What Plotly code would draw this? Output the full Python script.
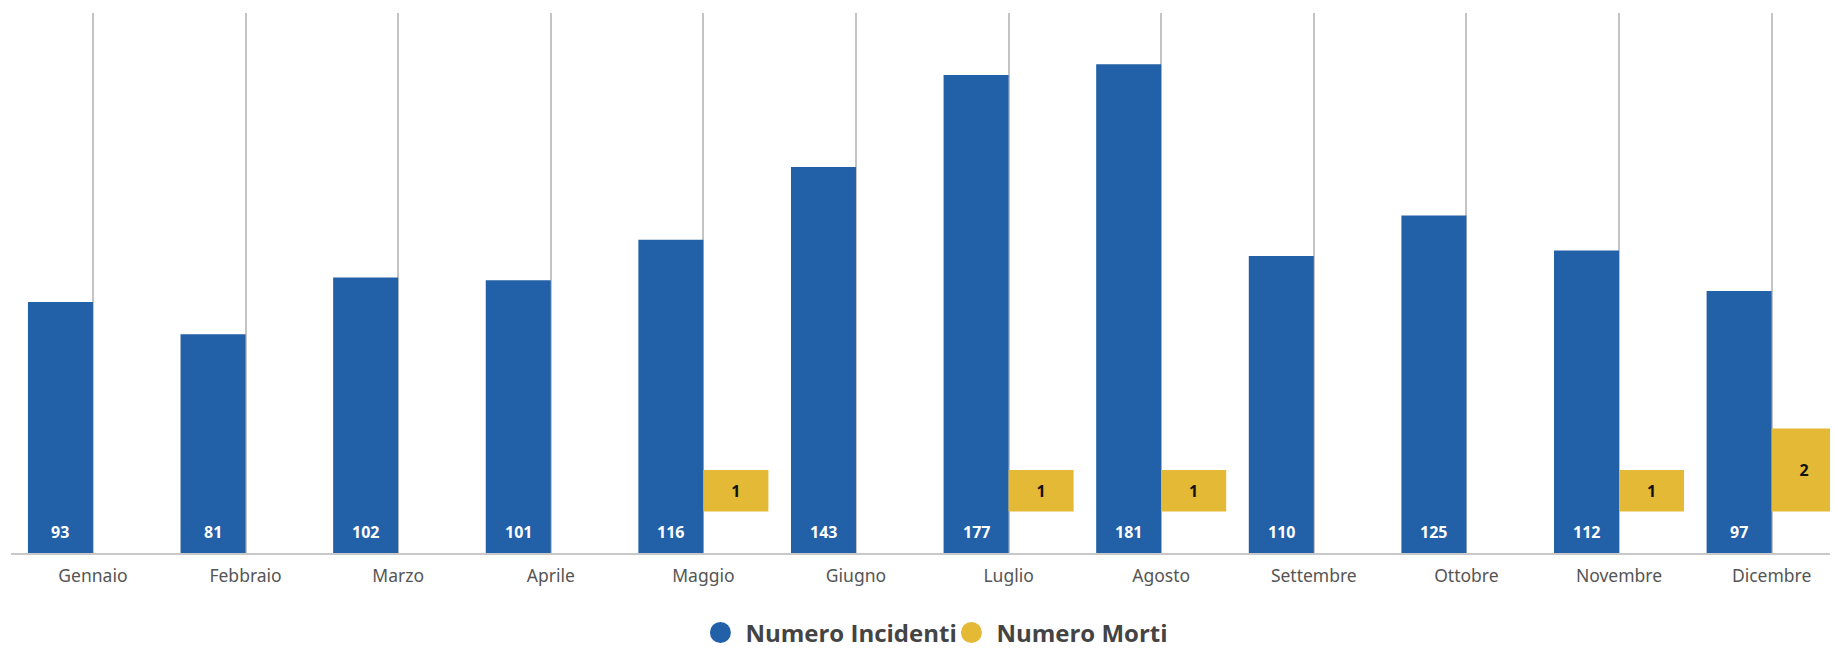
import plotly.graph_objects as go

months = ["Gennaio", "Febbraio", "Marzo", "Aprile", "Maggio", "Giugno",
          "Luglio", "Agosto", "Settembre", "Ottobre", "Novembre", "Dicembre"]
incidenti = [93, 81, 102, 101, 116, 143, 177, 181, 110, 125, 112, 97]
morti = [0, 0, 0, 0, 1, 0, 1, 1, 0, 0, 1, 2]

BLUE = "#2260A8"
YELLOW = "#E3B935"
FONT = "Noto Sans"

xs = list(range(len(months)))
BW = 0.426

fig = go.Figure()
fig.add_trace(go.Bar(
    x=xs, y=incidenti, width=BW, offset=-BW,
    marker=dict(color=BLUE, line=dict(width=0)),
    showlegend=False, hoverinfo="skip", yaxis="y",
))
fig.add_trace(go.Bar(
    x=xs, y=morti, width=BW, offset=0,
    marker=dict(color=YELLOW, line=dict(width=0)),
    text=[str(v) if v else "" for v in morti],
    textposition="inside", insidetextanchor="middle",
    textfont=dict(family=FONT, size=16, color="#111111", weight="bold"),
    showlegend=False, hoverinfo="skip", yaxis="y2",
))
# legend entries with round markers
fig.add_trace(go.Scatter(x=[None], y=[None], mode="markers", name="Numero Incidenti",
                         marker=dict(color=BLUE, size=22, symbol="circle",
                                     line=dict(color=BLUE, width=5))))
fig.add_trace(go.Scatter(x=[None], y=[None], mode="markers", name="Numero Morti",
                         marker=dict(color=YELLOW, size=22, symbol="circle",
                                     line=dict(color=YELLOW, width=5))))

annotations = []
for x, v in zip(xs, incidenti):
    annotations.append(dict(
        x=x - BW / 2, y=0, xref="x", yref="y", text=str(v), showarrow=False,
        yanchor="middle", yshift=21,
        font=dict(family=FONT, size=16, color="white", weight="bold"),
    ))

fig.update_layout(
    width=1838, height=648,
    margin=dict(l=3, r=8, t=5, b=103, autoexpand=False),
    paper_bgcolor="white", plot_bgcolor="white",
    barmode="overlay",
    xaxis=dict(
        range=[-0.537, 11.435],
        tickmode="array", tickvals=xs, ticktext=months,
        showgrid=True, gridcolor="#c4c4c4", gridwidth=2,
        showline=True, linecolor="#c8c8c8", linewidth=2,
        zeroline=False, ticks="", ticklabelstandoff=6,
        tickfont=dict(family=FONT, size=17.5, color="#555555"),
    ),
    yaxis=dict(range=[0, 200], showgrid=False, zeroline=False,
               showticklabels=False, showline=False),
    yaxis2=dict(range=[-1, 12], overlaying="y", side="right", showgrid=False,
                zeroline=False, showticklabels=False, showline=False),
    legend=dict(
        orientation="h", x=0.512, xanchor="center", y=-0.148, yanchor="middle",
        font=dict(family="Open Sans", size=24, color="#444444", weight="bold"),
        itemsizing="trace", itemwidth=40, entrywidth=196, entrywidthmode="pixels",
    ),
    annotations=annotations,
)

fig.write_html("out.html")
